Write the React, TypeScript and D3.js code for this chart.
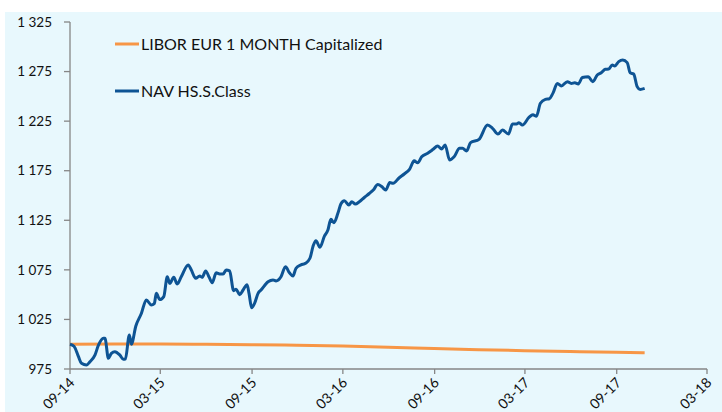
import React from "react";
import * as d3 from "d3";

const START = new Date(2014, 8, 1);
const yTicks = [975, 1025, 1075, 1125, 1175, 1225, 1275, 1325];
const xTickLabels = ["09-14", "03-15", "09-15", "03-16", "09-16", "03-17", "09-17", "03-18"];
const seriesNames = ["LIBOR EUR 1 MONTH Capitalized", "NAV HS.S.Class"];

// day offsets from 2014-09-01 and values
const liborDays = [0, 90, 182, 273, 364, 455, 547, 638, 730, 820, 911, 1003, 1095, 1152];
const liborValues = [1000, 1000.2, 1000.2, 999.9, 999.5, 998.9, 998.1, 997, 995.6, 994.5, 993.5, 992.6, 991.8, 991.4];

const navDays = [0, 8, 17, 23, 33, 40, 50, 57, 67, 70, 77, 83, 90, 100, 107, 111, 119, 123, 132, 143, 153, 163, 169, 173, 180, 188, 195, 200, 208, 215, 223, 237, 243, 252, 260, 265, 272, 279, 285, 293, 300, 307, 313, 320, 328, 333, 340, 347, 355, 359, 364, 370, 377, 383, 397, 407, 413, 423, 432, 440, 447, 453, 463, 472, 481, 488, 493, 501, 510, 517, 523, 529, 537, 543, 550, 559, 565, 572, 580, 590, 600, 608, 617, 625, 633, 641, 648, 659, 670, 681, 690, 697, 705, 717, 728, 737, 745, 752, 761, 770, 781, 787, 795, 803, 820, 837, 847, 858, 867, 879, 887, 895, 900, 907, 920, 928, 935, 943, 953, 961, 968, 977, 985, 997, 1005, 1012, 1019, 1027, 1039, 1048, 1057, 1065, 1073, 1080, 1087, 1092, 1100, 1108, 1117, 1123, 1130, 1137, 1143, 1152];
const navValues = [1000, 998, 987.4, 980.7, 979, 982.4, 989, 999, 1006, 1006, 985.8, 990.8, 992.5, 989, 984.8, 985, 1009.3, 1000, 1018.4, 1031, 1044.6, 1039.6, 1041, 1051.3, 1045, 1048, 1068, 1061.4, 1067.5, 1060.7, 1068, 1080, 1075, 1066.5, 1068.8, 1067.5, 1073.9, 1067.5, 1062, 1072, 1070.8, 1070.8, 1074.9, 1074, 1054, 1055.5, 1050, 1054.7, 1060, 1051, 1036.8, 1041.3, 1051.3, 1054.7, 1063, 1064.8, 1063.8, 1068, 1078.2, 1072, 1068.8, 1076.6, 1080, 1081.6, 1086.7, 1100, 1104.4, 1097.8, 1109, 1115.2, 1126, 1122.6, 1132, 1141.4, 1144.8, 1140.4, 1143.7, 1141.4, 1143.7, 1148, 1152, 1155.5, 1161, 1159, 1155.5, 1163, 1162.3, 1167.4, 1171.7, 1176.7, 1185, 1183, 1189, 1192.6, 1196.6, 1200, 1197, 1201, 1185.8, 1189, 1197.6, 1197.6, 1195, 1203.3, 1206.6, 1221, 1217.8, 1212, 1216, 1212, 1222, 1222, 1223.5, 1221, 1228.7, 1231.5, 1230, 1243, 1247, 1247.6, 1253, 1263, 1260.5, 1264.8, 1263, 1263.8, 1262.5, 1269, 1269.8, 1264.8, 1271.5, 1273.8, 1277.3, 1277.6, 1281.7, 1280.6, 1285, 1286.7, 1284, 1273.8, 1272.5, 1259.8, 1257, 1258];

const W = 722, H = 412;
const FONT = "Lato, 'Open Sans', sans-serif";

export default function App() {
  const x = d3.scaleTime().domain([START, new Date(2018, 2, 1)]).range([70, 707]);
  const y = d3.scaleLinear().domain([975, 1325]).range([369, 22]);
  const xTicks = d3.range(8).map((i) => d3.timeMonth.offset(START, i * 6));
  const toDate = (d: number) => d3.timeDay.offset(START, d);

  const line = d3
    .line<[number, number]>()
    .x((d) => x(toDate(d[0])))
    .y((d) => y(d[1]))
    .curve(d3.curveMonotoneX);

  const libor = liborDays.map((d, i) => [d, liborValues[i]] as [number, number]);
  const nav = navDays.map((d, i) => [d, navValues[i]] as [number, number]);

  const axisColor = "#868686";
  const colors = ["#F79646", "#0E5494"];

  return (
    <svg width={W} height={H} style={{ position: "absolute", left: 0, top: 0 }} fontFamily={FONT}>
      <rect x={0} y={0} width={W} height={H} fill="#fff" />
      <rect x={5} y={12} width={W - 5} height={H - 12} fill="#E8F8FD" />
      {/* y axis */}
      <line x1={70} x2={70} y1={y(1325)} y2={y(975)} stroke={axisColor} strokeWidth={1.3} />
      {yTicks.map((t) => (
        <g key={t}>
          <line x1={64} x2={70} y1={y(t)} y2={y(t)} stroke={axisColor} strokeWidth={1.3} />
          <text x={52} y={y(t)} dy="0.35em" textAnchor="end" fontSize={13.5} fill="#111">
            {d3.format(",")(t).replace(",", " ")}
          </text>
        </g>
      ))}
      {/* x axis */}
      <line x1={70} x2={707} y1={369} y2={369} stroke={axisColor} strokeWidth={1.3} />
      {xTicks.map((t, i) => {
        const px = x(t);
        return (
          <g key={i}>
            <line x1={px} x2={px} y1={369} y2={374} stroke={axisColor} strokeWidth={1.3} />
            <text
              transform={`translate(${px + 2},${380}) rotate(-45)`}
              textAnchor="end"
              dy="0.35em"
              fontSize={14}
              fill="#111"
            >
              {xTickLabels[i]}
            </text>
          </g>
        );
      })}
      {/* series */}
      <path d={line(libor) || ""} fill="none" stroke={colors[0]} strokeWidth={3} />
      <path d={line(nav) || ""} fill="none" stroke={colors[1]} strokeWidth={3} strokeLinejoin="round" />
      {/* legend */}
      {seriesNames.map((n, i) => (
        <g key={n}>
          <line x1={115} x2={139} y1={44 + i * 47} y2={44 + i * 47} stroke={colors[i]} strokeWidth={3} />
          <text x={141} y={44 + i * 47} dy="0.35em" fontSize={16} fill="#111">
            {n}
          </text>
        </g>
      ))}
    </svg>
  );
}
